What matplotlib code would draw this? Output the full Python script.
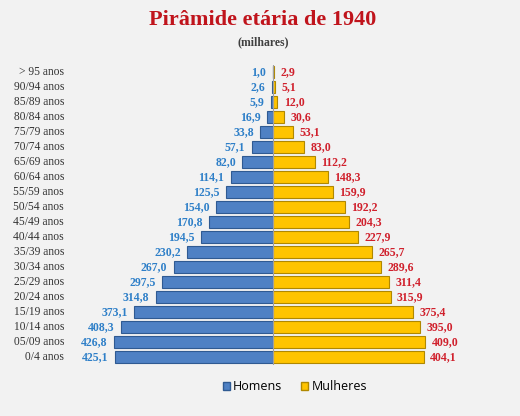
import matplotlib
matplotlib.use("Agg")
import matplotlib.pyplot as plt
from matplotlib.patches import Patch

categories = ["0/4 anos", "05/09 anos", "10/14 anos", "15/19 anos", "20/24 anos",
              "25/29 anos", "30/34 anos", "35/39 anos", "40/44 anos", "45/49 anos",
              "50/54 anos", "55/59 anos", "60/64 anos", "65/69 anos", "70/74 anos",
              "75/79 anos", "80/84 anos", "85/89 anos", "90/94 anos", "> 95 anos"]
homens = [425.1, 426.8, 408.3, 373.1, 314.8, 297.5, 267.0, 230.2, 194.5, 170.8,
          154.0, 125.5, 114.1, 82.0, 57.1, 33.8, 16.9, 5.9, 2.6, 1.0]
mulheres = [404.1, 409.0, 395.0, 375.4, 315.9, 311.4, 289.6, 265.7, 227.9, 204.3,
            192.2, 159.9, 148.3, 112.2, 83.0, 53.1, 30.6, 12.0, 5.1, 2.9]

bg = "#f2f2f2"
fig = plt.figure(figsize=(5.2, 4.16), dpi=100, facecolor=bg)
n = len(categories)
row_px = (357 - 72) / (n - 1)
H = 416.0
top_px = 72 - row_px / 2
bot_px = 357 + row_px / 2
ax = fig.add_axes([70 / 520, 1 - bot_px / H, 406 / 520, (bot_px - top_px) / H])
ax.set_facecolor(bg)
ys = list(range(n))
blue = "#4f81c4"
gold = "#ffc400"
ax.barh(ys, [-v for v in homens], height=0.86, color=blue, edgecolor="#2f5a92", linewidth=0.8)
ax.barh(ys, mulheres, height=0.86, color=gold, edgecolor="#b08800", linewidth=0.8)
ax.axvline(0, color="#a0a0a0", linewidth=0.8)
ax.set_xlim(-545, 545)
ax.set_ylim(-0.5, n - 0.5)
ax.axis("off")

serif = ["Liberation Serif", "DejaVu Serif"]
for y, h, m in zip(ys, homens, mulheres):
    ax.text(-h - 17, y, f"{h:.1f}".replace(".", ","), ha="right", va="center",
            fontsize=8.5, fontweight="bold", color="#2e7fc8", family=serif)
    ax.text(m + 17, y, f"{m:.1f}".replace(".", ","), ha="left", va="center",
            fontsize=8.5, fontweight="bold", color="#d0202c", family=serif)
    fig.text(64 / 520, 1 - (357 - y * row_px) / H, categories[y], ha="right", va="center",
             fontsize=8.3, color="#333333", family=serif)

fig.text(263 / 520, 1 - 20 / H, "Pirâmide etária de 1940", ha="center", va="center",
         fontsize=16, fontweight="bold", color="#c0141c", family=serif)
fig.text(263 / 520, 1 - 42 / H, "(milhares)", ha="center", va="center",
         fontsize=8.5, fontweight="bold", color="#404040", family=serif)

handles = [Patch(facecolor=blue, edgecolor="#2f5a92", label="Homens"),
           Patch(facecolor=gold, edgecolor="#b08800", label="Mulheres")]
fig.legend(handles=handles, loc="center", bbox_to_anchor=(295 / 520, 1 - 387 / H), ncol=2,
           frameon=False, handlelength=0.55, handleheight=0.55,
           handletextpad=0.3, columnspacing=1.5, prop={"family": "Open Sans", "size": 9})

fig.savefig("out.png", dpi=100, facecolor=bg)
